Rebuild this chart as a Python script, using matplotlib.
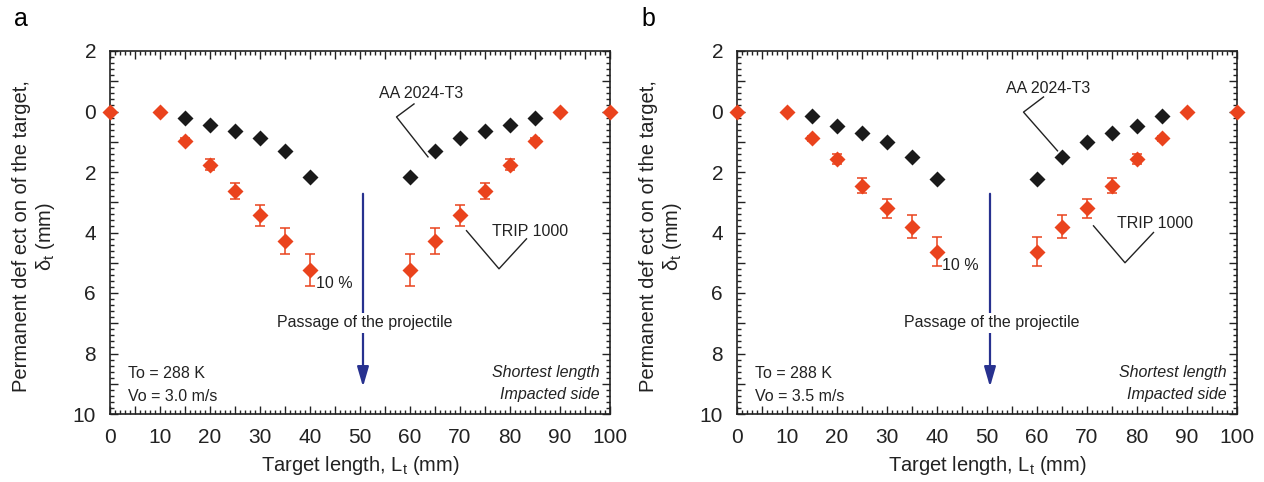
import numpy as np
import matplotlib
matplotlib.use('Agg')
import matplotlib.pyplot as plt
from matplotlib.ticker import MultipleLocator

plt.rcParams['font.family'] = ['Liberation Sans', 'DejaVu Sans']

# target length positions (mm)
x_aa = [15, 20, 25, 30, 35, 40, 60, 65, 70, 75, 80, 85]
x_trip = [0, 10, 15, 20, 25, 30, 35, 40, 60, 65, 70, 75, 80, 85, 90, 100]

# panel a : Vo = 3.0 m/s
aa_a = [0.21, 0.43, 0.64, 0.87, 1.29, 2.16, 2.16, 1.29, 0.87, 0.64, 0.43, 0.21]
trip_a = [0, 0, 0.97, 1.76, 2.63, 3.43, 4.28, 5.24,
          5.24, 4.28, 3.43, 2.63, 1.76, 0.97, 0, 0]
trip_a_err = [0, 0, 0.08, 0.18, 0.27, 0.35, 0.43, 0.53,
              0.53, 0.43, 0.35, 0.27, 0.18, 0.08, 0, 0]

# panel b : Vo = 3.5 m/s
aa_b = [0.14, 0.48, 0.70, 1.01, 1.52, 2.23, 2.23, 1.52, 1.01, 0.70, 0.48, 0.14]
trip_b = [0, 0, 0.89, 1.58, 2.46, 3.20, 3.81, 4.63,
          4.63, 3.81, 3.20, 2.46, 1.58, 0.89, 0, 0]
trip_b_err = [0, 0, 0.07, 0.16, 0.25, 0.32, 0.38, 0.47,
              0.47, 0.38, 0.32, 0.25, 0.16, 0.07, 0, 0]

yticks = list(range(-2, 11))
ytick_labels = [str(abs(v)) if v % 2 == 0 else '' for v in yticks]
xticks = list(range(0, 101, 5))
xtick_labels = [str(v) if v % 10 == 0 else '' for v in xticks]

panels = [
    dict(label='a', aa=aa_a, trip=trip_a, err=trip_a_err, vo='Vo = 3.0 m/s',
         aa_txt=(62.3, -0.6), aa_line=([60.8, 57.3, 63.6], [-0.25, 0.18, 1.5]),
         tr_txt=(84, 3.96), tr_line=([71.3, 77.8, 83.3], [3.94, 5.2, 4.21]),
         pct=(41.3, 5.67)),
    dict(label='b', aa=aa_b, trip=trip_b, err=trip_b_err, vo='Vo = 3.5 m/s',
         aa_txt=(62.3, -0.77), aa_line=([61.3, 57.3, 64.1], [-0.48, 0.02, 1.3]),
         tr_txt=(83.6, 3.7), tr_line=([71.3, 77.6, 83.3], [3.78, 5.0, 4.0]),
         pct=(41.0, 5.08)),
]

red = '#ea431d'
black = '#1a1a1a'
navy = '#27318f'
ink = '#222222'

fig = plt.figure(figsize=(12.64, 4.82), dpi=100)
lefts = [110 / 1264, 737 / 1264]

for p, left in zip(panels, lefts):
    ax = fig.add_axes([left, 1 - 414 / 482, 500 / 1264, 363 / 482])
    ax.plot(x_aa, p['aa'], 'D', color=black, ms=8, mec='none', zorder=4)
    ax.errorbar(x_trip, p['trip'], yerr=p['err'], fmt='D', color=red, ms=8.5,
                mec='none', ecolor=red, elinewidth=1.1, capsize=3.5,
                capthick=1.1, zorder=4, clip_on=False)

    ax.set_xlim(0, 100)
    ax.set_ylim(10, -2)
    ax.set_xticks(xticks)
    ax.set_xticklabels(xtick_labels)
    ax.xaxis.set_minor_locator(MultipleLocator(1))
    ax.set_yticks(yticks)
    ax.set_yticklabels(ytick_labels)
    ax.yaxis.set_minor_locator(MultipleLocator(0.2))
    ax.tick_params(which='both', direction='in', top=True, right=True,
                   labelsize=15, width=1, colors=ink)
    ax.tick_params(which='major', length=6)
    ax.tick_params(axis='x', which='major', pad=10)
    ax.tick_params(axis='y', which='major', pad=10)
    ax.tick_params(which='minor', length=3)
    for s in ax.spines.values():
        s.set_linewidth(1.2)
        s.set_color(ink)

    ax.set_xlabel('Target length, L$_\\mathregular{t}$ (mm)', fontsize=14.5,
                  labelpad=5, color=ink)
    ax.set_ylabel('Permanent def ect on of the target,\n$\\mathregular{\\delta_t}$ (mm)',
                  fontsize=14.5, color=ink)
    ax.yaxis.set_label_coords(-0.106, 0.49)

    # annotations
    ax.text(*p['aa_txt'], 'AA 2024-T3', fontsize=11.5, ha='center', va='center',
            color=ink)
    ax.plot(*p['aa_line'], color=ink, lw=1)
    ax.text(*p['tr_txt'], 'TRIP 1000', fontsize=11.5, ha='center', va='center',
            color=ink)
    ax.plot(*p['tr_line'], color=ink, lw=1)
    ax.text(*p['pct'], '10 %', fontsize=11.5, ha='left', va='center', color=ink)

    ax.annotate('', xy=(50.6, 9.1), xytext=(50.6, 2.72),
                arrowprops=dict(arrowstyle='-|>,head_length=1.2,head_width=0.35',
                                color=navy, lw=1.6, shrinkA=0, shrinkB=0))
    ax.text(51, 6.99, 'Passage of the projectile', fontsize=11.5, ha='center',
            va='center', color=ink,
            bbox=dict(facecolor='white', edgecolor='none', pad=1.5))

    ax.text(3.6, 8.65, 'To = 288 K', fontsize=11.5, ha='left', va='center', color=ink)
    ax.text(3.6, 9.42, p['vo'], fontsize=11.5, ha='left', va='center', color=ink)
    ax.text(98, 8.64, 'Shortest length', fontsize=11.5, ha='right', va='center',
            style='italic', color=ink)
    ax.text(98, 9.37, 'Impacted side', fontsize=11.5, ha='right', va='center',
            style='italic', color=ink)

    fig.text(left - 96 / 1264, 1 - 19 / 482, p['label'], fontsize=18,
             ha='left', va='center')

fig.savefig('out.png', dpi=100)
